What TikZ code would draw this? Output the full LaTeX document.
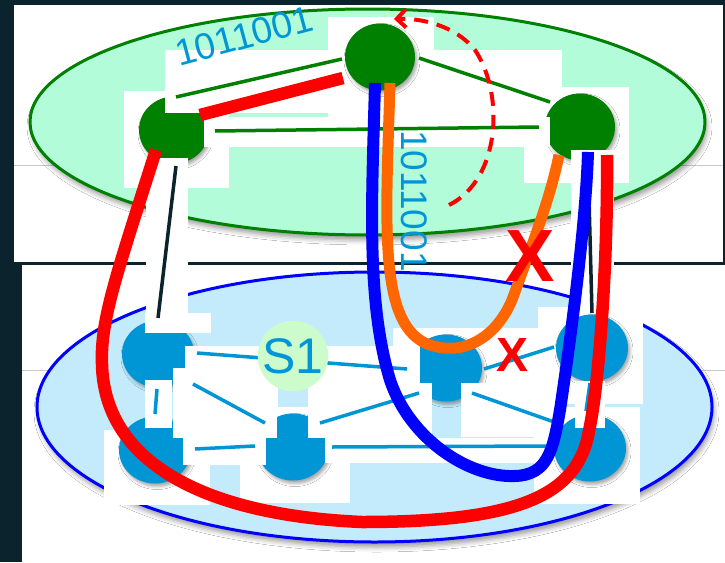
\documentclass[tikz,border=0pt]{standalone}
\usepackage{fontspec}
\setmainfont{Liberation Sans}
\usetikzlibrary{shapes.geometric,shadows.blur,arrows.meta,calc}

\definecolor{navy}{HTML}{0B232C}
\definecolor{mint}{HTML}{B3FCD9}
\definecolor{leaf}{HTML}{008000}
\definecolor{sky}{HTML}{C4EBFC}
\definecolor{cyanblue}{HTML}{0096D6}
\definecolor{paleg}{HTML}{CCFCCC}
\definecolor{orng}{HTML}{FF6600}
\definecolor{rulegray}{HTML}{C8C8C8}

\begin{document}
\begin{tikzpicture}[x=1pt,y=-1pt,
  patch/.style={fill=white},
  softshadow/.style={blur shadow={shadow xshift=2pt,shadow yshift=-3pt,shadow blur radius=3pt,shadow opacity=35}},
  gnode/.style={ellipse,fill=leaf,minimum width=70pt,minimum height=67pt,inner sep=0pt,softshadow},
  bnode/.style={ellipse,fill=cyanblue,minimum width=72pt,minimum height=67pt,inner sep=0pt,softshadow},
  gedge/.style={draw=leaf,line width=3.5pt},
  bedge/.style={draw=cyanblue,line width=3.5pt},
  kedge/.style={draw=navy,line width=3.5pt},
  fatred/.style={draw=red,line width=12.5pt},
  fatblue/.style={draw=blue,line width=12pt},
  fatorange/.style={draw=orng,line width=11pt},
  bits/.style={text=cyanblue,inner sep=0pt,font=\fontsize{37}{37}\selectfont},
  cross/.style={text=red,inner sep=0pt,font=\bfseries\fontsize{#1}{#1}\selectfont}
]
\useasboundingbox (0,0) rectangle (725,562);

% slide background and the two panels
\fill[navy] (0,0) rectangle (725,562);
\fill[white] (14,5) rectangle (723,262);
\fill[white] (22,265) rectangle (725,562);
\draw[rulegray,line width=1pt] (14,165) -- (723,165);
\draw[rulegray,line width=1pt] (22,370) -- (725,370);

% the two layers
\draw[leaf,fill=mint,line width=3pt,blur shadow={shadow xshift=2pt,shadow yshift=-5pt,shadow blur radius=5pt,shadow opacity=40}]
  (367.5,122) ellipse [x radius=337.5,y radius=113];
\draw[blue,fill=sky,line width=3pt,blur shadow={shadow xshift=2pt,shadow yshift=-5pt,shadow blur radius=5pt,shadow opacity=40}]
  (374.5,407) ellipse [x radius=337.5,y radius=135];

% white label boxes lying under the nodes
\fill[patch] (124,91) rectangle (229,188);
\fill[patch] (328,17) rectangle (434,117);
\fill[patch] (408,50) rectangle (562,117);
\fill[patch] (524,87) rectangle (629,183);
\fill[patch] (393,328) rectangle (538,385);
\fill[patch] (104,430) rectangle (210,505);
\fill[patch] (240,463) rectangle (350,503);
\fill[patch] (538,307) rectangle (643,404);
\fill[patch] (534,407) rectangle (640,504);
\fill[patch] (277,385) rectangle (308,438);
\fill[sky] (278,385) rectangle (308,407);

% upper layer nodes
\node[gnode] (A) at (174,130) {};
\fill[patch] (165,50) rectangle (354,113);
\node[gnode] (B) at (380,57) {};
\node[gnode] (C) at (580,127) {};

% lower layer nodes
\node[bnode] (D) at (158,354) {};
\node[bnode] (E) at (155,450) {};
\node[bnode] (F) at (293,447) {};
\node[bnode] (G) at (446,368) {};
\node[bnode] (H) at (592,348) {};
\node[bnode] (I) at (590,448) {};

% white label boxes lying over the nodes
\fill[patch] (204,117) rectangle (550,147);
\fill[patch] (146,158) rectangle (188,333);
\fill[patch] (571,150) rectangle (614,307);
\fill[patch] (145,313) rectangle (211,333);
\fill[patch] (185,346) rectangle (420,385);
\fill[patch] (173,368) rectangle (277,438);
\fill[patch] (145,380) rectangle (172,428);
\fill[patch] (183,433) rectangle (266,465);
\fill[patch] (308,383) rectangle (432,438);
\fill[patch] (461,383) rectangle (556,437);
\fill[patch] (325,438) rectangle (550,463);
\fill[patch] (575,381) rectangle (605,428);

% upper layer links
\draw[gedge] ($(A)+(2,-33)$) -- ($(B)+(-38,2)$);
\draw[gedge] ($(A)+(41,1)$) -- ($(C)+(-41,0)$);
\draw[gedge] ($(B)+(39,1)$) -- ($(C)+(-30,-25)$);

% links between the layers
\draw[kedge] ($(A)+(2,36)$) -- ($(D)+(0,-36)$);
\draw[kedge] ($(C)+(8,33)$) -- ($(H)+(0,-35)$);

% lower layer links
\draw[bedge] ($(D)+(39,-1)$) -- ($(G)+(-39,1)$);
\draw[bedge] ($(D)+(35,30)$) -- ($(F)+(-28,-24)$);
\draw[bedge] ($(D)+(-1,35)$) -- ($(E)+(0,-36)$);
\draw[bedge] ($(E)+(40,-1)$) -- ($(F)+(-38,-1)$);
\draw[bedge] ($(F)+(27,-24)$) -- ($(G)+(-27,25)$);
\draw[bedge] ($(F)+(39,0)$) -- ($(I)+(-43,-2)$);
\draw[bedge] ($(G)+(38,1)$) -- ($(H)+(-38,-1)$);
\draw[bedge] ($(G)+(26,25)$) -- ($(I)+(-33,-25)$);
\draw[bedge] ($(H)+(-2,35)$) -- ($(I)+(-4,-37)$);

% switch on the lower layer
\node[circle,fill=paleg,minimum size=63pt,inner sep=0pt,text=cyanblue,
      font=\fontsize{50}{50}\selectfont] (S1) at (293,356) {S1};

% routes
\draw[fatred] ($(A)+(26,-15)$) -- ($(B)+(-37,21)$);
\draw[fatorange] ($(B)+(10,26)$) .. controls (386,220) and (378,320) .. (425,343)
  .. controls (460,358) and (495,340) .. (512,300)
  .. controls (530,250) and (550,200) .. ($(C)+(-21,28)$);
\draw[fatblue] ($(B)+(-5,26)$) .. controls (372,200) and (366,300) .. (390,380)
  .. controls (410,440) and (470,478) .. (515,476)
  .. controls (548,475) and (553,450) .. (560,410)
  .. controls (572,330) and (586,220) .. ($(C)+(8,25)$);
\draw[fatred] ($(A)+(-18,20)$) .. controls (118,270) and (100,320) .. (102,364)
  .. controls (104,460) and (200,515) .. (362,522)
  .. controls (520,522) and (578,495) .. (589,431)
  .. controls (600,380) and (608,250) .. ($(C)+(27,28)$);

% loop back to the top node
\coordinate (loopstart) at (449,205);
\draw[red,line width=4pt,dash pattern=on 14pt off 9pt,-{Straight Barb[length=9pt,width=18pt]}]
  (loopstart) .. controls (500,180) and (505,95) .. (475,50)
  .. controls (455,25) and (420,18) .. ($(B)+(14,-38)$);

% bit strings
\node[bits,rotate=15] (bitsA) at (244,36) {1011001};
\node[bits,rotate=-90] (bitsB) at (414,201) {1011001};

% failed links
\node[cross=74] (xbig) at (530,256) {X};
\node[cross=48] (xsmall) at (512,355) {X};
\end{tikzpicture}
\end{document}
